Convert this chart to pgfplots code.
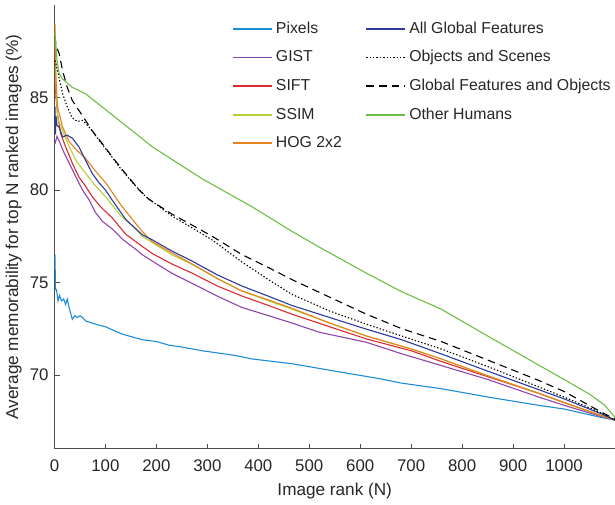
\documentclass[border=0pt]{standalone}
\usepackage{fontspec}
\setmainfont{Liberation Sans}
\usepackage{pgfplots}
\pgfplotsset{compat=1.18}

\definecolor{cpix}{HTML}{1A8CD8}
\definecolor{cgist}{HTML}{8E44AD}
\definecolor{csift}{HTML}{DB2A30}
\definecolor{cssim}{HTML}{B3D235}
\definecolor{chog}{HTML}{E8821E}
\definecolor{call}{HTML}{2B3A9B}
\definecolor{chum}{HTML}{6DBE45}
\definecolor{ctext}{HTML}{262626}

\begin{document}
\begin{tikzpicture}[trim axis right]
\begin{axis}[
    width=333pt, height=263.6pt,
    scale only axis,
    xmin=0, xmax=1100,
    ymin=66, ymax=90,
    xtick={0,100,...,1000},
    ytick={70,75,80,85},
    axis lines=left,
    axis line style={black!70, -},
    tick style={black!70},
    tick align=inside,
    major tick length=3pt,
    every tick label/.style={font=\fontsize{10}{12}\selectfont, text=ctext},
    /pgf/number format/assume math mode=true,
    /pgf/number format/1000 sep={},
    xticklabel style={yshift=-3pt},
    xlabel={Image rank (N)},
    ylabel={Average memorability for top N ranked images (\%)},
    label style={font=\fontsize{10.2}{12}\selectfont, text=ctext},
    ylabel style={yshift=-2pt},
    clip=false,
    every axis plot/.append style={line width=0.65pt},
    legend columns=2,
    legend cell align=left,
    legend image code/.code={\draw[line width=1pt,#1] (0pt,0pt) -- (23pt,0pt);},
    legend style={
        draw=none, fill=none,
        at={(0.3075,0.978)}, anchor=north west,
        font=\fontsize{9.4}{11.2}\selectfont, text=ctext,
        row sep=4.7pt,
        /tikz/every even column/.append style={column sep=12pt},
        /tikz/every odd column/.append style={column sep=0pt},
    },
]

% Pixels
\addplot[color=cpix, forget plot] coordinates {
(1,76.5)(2,74.6)(4,74.6)(7,74.0)(10,74.3)(14,74.0)(18,74.1)(22,73.8)(25,74.1)(30,73.5)(35,73.0)(40,73.2)(45,73.1)(50,73.2)(55,73.1)(62,72.9)(68,72.85)(85,72.7)(100,72.6)(133,72.2)(172,71.9)(200,71.8)(225,71.6)(250,71.5)(290,71.3)(354,71.05)(387,70.86)(466,70.6)(550,70.2)(636,69.8)(681,69.55)(759,69.25)(850,68.8)(950,68.35)(1000,68.15)(1072,67.7)(1100,67.55)
};

% GIST
\addplot[color=cgist, forget plot] coordinates {
(1,82.5)(5,82.9)(10,82.6)(19,82.0)(29,81.45)(42,80.7)(55,80.0)(68,79.46)(80,78.8)(94,78.3)(113,77.9)(135,77.3)(159,76.8)(172,76.5)(192,76.15)(230,75.5)(270,74.95)(320,74.25)(368,73.64)(420,73.2)(466,72.8)(520,72.3)(612,71.76)(680,71.15)(759,70.5)(850,69.75)(950,68.8)(1000,68.35)(1072,67.75)(1100,67.55)
};

% SIFT
\addplot[color=csift, forget plot] coordinates {
(1,86.0)(3,85.0)(6,84.1)(12,83.06)(22,82.33)(35,81.45)(48,80.7)(61,80.2)(74,79.64)(90,79.1)(113,78.5)(140,77.6)(172,76.95)(192,76.56)(230,76.0)(270,75.5)(320,74.8)(368,74.26)(420,73.75)(466,73.28)(540,72.6)(612,71.94)(700,71.3)(759,70.72)(850,69.9)(950,69.0)(1000,68.5)(1072,67.8)(1100,67.55)
};

% SSIM
\addplot[color=cssim, forget plot] coordinates {
(1,88.5)(3,85.5)(6,83.9)(16,83.2)(29,82.33)(42,81.6)(61,80.9)(81,80.2)(100,79.64)(130,78.6)(159,77.9)(172,77.5)(192,77.15)(230,76.5)(270,75.97)(320,75.2)(368,74.53)(420,74.0)(466,73.55)(540,72.8)(612,72.1)(700,71.4)(759,70.86)(850,69.95)(950,69.0)(1000,68.5)(1072,67.8)(1100,67.55)
};

% HOG 2x2
\addplot[color=chog, forget plot] coordinates {
(1,89.0)(3,86.0)(6,84.5)(16,83.4)(29,82.6)(42,82.2)(61,81.7)(81,81.0)(100,80.4)(130,79.2)(159,78.2)(172,77.76)(192,77.2)(230,76.6)(270,76.0)(320,75.2)(368,74.53)(420,74.05)(466,73.6)(540,72.8)(612,72.1)(700,71.4)(759,70.86)(850,69.95)(950,69.0)(1000,68.5)(1072,67.8)(1100,67.55)
};

% All Global Features
\addplot[color=call, forget plot] coordinates {
(1,84.5)(2,83.0)(3,84.0)(5,83.5)(9,83.4)(16,82.87)(25,82.96)(35,82.8)(48,82.33)(61,81.6)(74,80.9)(87,80.4)(100,80.0)(113,79.46)(140,78.4)(172,77.58)(192,77.3)(230,76.7)(270,76.15)(320,75.4)(368,74.8)(420,74.25)(466,73.75)(540,73.1)(612,72.47)(681,71.9)(759,71.13)(850,70.2)(950,69.2)(1000,68.7)(1072,67.9)(1100,67.55)
};

% Objects and Scenes
\addplot[color=black, dash pattern=on 0.8pt off 1.2pt, forget plot] coordinates {
(1,87.0)(3,86.8)(6,86.45)(16,85.2)(25,84.5)(35,83.9)(45,83.7)(55,83.76)(68,83.4)(87,82.7)(107,82.0)(127,81.25)(153,80.4)(179,79.64)(230,78.6)(270,77.95)(309,77.3)(368,76.1)(420,75.15)(466,74.35)(540,73.45)(612,72.74)(681,72.1)(759,71.4)(850,70.45)(950,69.35)(1000,68.8)(1072,67.95)(1100,67.55)
};

% Global Features and Objects
\addplot[color=black, dash pattern=on 4.5pt off 3pt, forget plot] coordinates {
(1,88.3)(3,87.8)(9,87.4)(16,86.45)(25,85.55)(35,84.84)(48,84.3)(61,83.76)(74,83.2)(94,82.5)(113,81.8)(139,80.9)(166,80.0)(185,79.5)(230,78.7)(270,78.1)(309,77.5)(368,76.5)(420,75.8)(466,75.15)(540,74.2)(612,73.28)(681,72.5)(759,71.8)(850,70.8)(950,69.7)(1000,69.1)(1072,68.0)(1100,67.6)
};

% Other Humans
\addplot[color=chum, forget plot] coordinates {
(1,88.5)(5,87.0)(9,86.3)(16,86.0)(35,85.55)(61,85.2)(94,84.48)(127,83.76)(159,83.06)(192,82.33)(290,80.6)(387,79.1)(466,77.76)(520,76.9)(612,75.5)(681,74.5)(759,73.55)(850,72.1)(955,70.45)(1000,69.75)(1053,68.9)(1080,68.35)(1100,67.7)
};

% legend, filled row by row
\addlegendimage{color=cpix}
\addlegendentry{Pixels}
\addlegendimage{color=call}
\addlegendentry{All Global Features}
\addlegendimage{color=cgist}
\addlegendentry{GIST}
\addlegendimage{color=black, dash pattern=on 0.8pt off 1.2pt}
\addlegendentry{Objects and Scenes}
\addlegendimage{color=csift}
\addlegendentry{SIFT}
\addlegendimage{color=black, dash pattern=on 4.5pt off 3pt}
\addlegendentry{Global Features and Objects}
\addlegendimage{color=cssim}
\addlegendentry{SSIM}
\addlegendimage{color=chum}
\addlegendentry{Other Humans}
\addlegendimage{color=chog}
\addlegendentry{HOG 2x2}

% a little room above the top of the axis
\path (rel axis cs:0,1) ++(0pt,3pt);

\end{axis}
\end{tikzpicture}
\end{document}
